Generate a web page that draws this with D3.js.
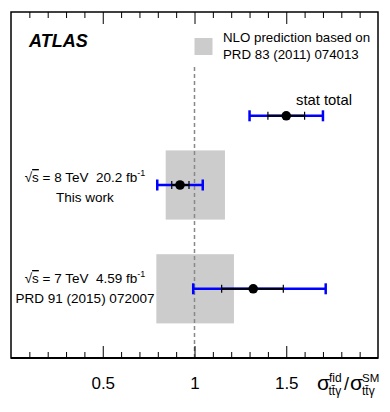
<!DOCTYPE html>
<html>
<head>
<meta charset="utf-8">
<script src="https://d3js.org/d3.v7.min.js"></script>
<style>
body { margin: 0; background: #fff; }
text { font-family: "Liberation Sans", Arial, sans-serif; }
</style>
</head>
<body>
<div id="chart"></div>
<script>
var margin = {top: 12, right: 12, bottom: 54, left: 11};
var width = 390 - margin.left - margin.right;
var height = 412 - margin.top - margin.bottom;

// measurements (ratio to SM), row position on the vertical scale
var rowNames = ["8 TeV", "7 TeV"];
var rowPos = [5, 2];
var values = [0.921, 1.32];
var statLo = [0.876, 1.148];
var statHi = [0.970, 1.484];
var totLo = [0.797, 0.993];
var totHi = [1.045, 1.715];
// NLO prediction band per row
var nloLo = [0.843, 0.792];
var nloHi = [1.166, 1.215];

// legend entry
var legendPos = 7;
var legendValue = 1.5;
var legendStat = [1.4, 1.6];
var legendTot = [1.3, 1.7];

var majorTicks = [0.5, 1, 1.5];
var tickLabels = ["0.5", "1", "1.5"];
var minorTicks = [0.1, 0.2, 0.3, 0.4, 0.6, 0.7, 0.8, 0.9, 1.1, 1.2, 1.3, 1.4, 1.6, 1.7, 1.8, 1.9];

var svg = d3.select("#chart").append("svg")
    .attr("width", width + margin.left + margin.right)
    .attr("height", height + margin.top + margin.bottom)
    .append("g").attr("transform", "translate(" + margin.left + "," + margin.top + ")");

var x = d3.scaleLinear().domain([0, 2]).range([0, width]);
var y = d3.scaleLinear().domain([0, 10]).range([height, 0]);

// NLO bands
svg.selectAll(".nlo").data(rowPos).enter().append("rect")
    .attr("x", (d, i) => x(nloLo[i]))
    .attr("width", (d, i) => x(nloHi[i]) - x(nloLo[i]))
    .attr("y", d => y(d + 1))
    .attr("height", d => y(d - 1) - y(d + 1))
    .attr("fill", "#cccccc");

// SM line
svg.append("line")
    .attr("x1", x(1)).attr("x2", x(1))
    .attr("y1", y(0)).attr("y2", y(8.5))
    .attr("stroke", "#888").attr("stroke-width", 1.5)
    .attr("stroke-dasharray", "4,3");

// error bars
function drawPoint(pos, val, stat, tot) {
    var g = svg.append("g");
    g.append("line").attr("x1", x(tot[0])).attr("x2", x(tot[1]))
        .attr("y1", y(pos)).attr("y2", y(pos)).attr("stroke", "#0000ff").attr("stroke-width", 2.5);
    tot.forEach(function(t) {
        g.append("line").attr("x1", x(t)).attr("x2", x(t))
            .attr("y1", y(pos) - 5.5).attr("y2", y(pos) + 5.5).attr("stroke", "#0000ff").attr("stroke-width", 2.5);
    });
    g.append("line").attr("x1", x(stat[0])).attr("x2", x(stat[1]))
        .attr("y1", y(pos)).attr("y2", y(pos)).attr("stroke", "#000").attr("stroke-width", 2);
    stat.forEach(function(s) {
        g.append("line").attr("x1", x(s)).attr("x2", x(s))
            .attr("y1", y(pos) - 4).attr("y2", y(pos) + 4).attr("stroke", "#000").attr("stroke-width", 1.2);
    });
    g.append("circle").attr("cx", x(val)).attr("cy", y(pos)).attr("r", 4.8).attr("fill", "#000");
}

rowPos.forEach(function(p, i) {
    drawPoint(p, values[i], [statLo[i], statHi[i]], [totLo[i], totHi[i]]);
});
drawPoint(legendPos, legendValue, legendStat, legendTot);

// axes (ticks only, pointing inward)
svg.append("g").attr("transform", "translate(0," + height + ")")
    .call(d3.axisBottom(x).tickValues(minorTicks).tickSize(-6).tickFormat(""))
    .call(g => g.select(".domain").remove());
svg.append("g").attr("class", "xmaj").attr("transform", "translate(0," + height + ")")
    .call(d3.axisBottom(x).tickValues(majorTicks).tickSize(-12).tickPadding(19)
        .tickFormat((d, i) => tickLabels[i]))
    .call(g => g.select(".domain").remove());
svg.selectAll(".xmaj text").attr("font-size", 17).attr("font-family", "Liberation Sans, Arial, sans-serif").attr("fill", "#000");
svg.append("g")
    .call(d3.axisTop(x).tickValues(minorTicks).tickSize(-6).tickFormat(""))
    .call(g => g.select(".domain").remove());
svg.append("g")
    .call(d3.axisTop(x).tickValues(majorTicks).tickSize(-12).tickFormat(""))
    .call(g => g.select(".domain").remove());
svg.selectAll(".tick line").attr("stroke", "#000").attr("stroke-width", 1);

// frame
svg.append("rect").attr("x", 0).attr("y", 0).attr("width", width).attr("height", height)
    .attr("fill", "none").attr("stroke", "#000").attr("stroke-width", 1.5);
svg.append("line").attr("x1", 0).attr("x2", width).attr("y1", height).attr("y2", height)
    .attr("stroke", "#000").attr("stroke-width", 2);

// ATLAS label
svg.append("text").attr("x", 18).attr("y", 35)
    .attr("font-size", 18).attr("font-weight", "bold").attr("font-style", "italic")
    .text("ATLAS");

// NLO legend
svg.append("rect").attr("x", x(1)).attr("y", 26).attr("width", 18).attr("height", 17).attr("fill", "#cccccc");
svg.append("text").attr("x", 212).attr("y", 30).attr("font-size", 13.3).text("NLO prediction based on");
svg.append("text").attr("x", 212).attr("y", 47).attr("font-size", 13.3).text("PRD 83 (2011) 074013");

svg.append("text").attr("x", 285).attr("y", 93).attr("font-size", 14.8).text("stat total");

// row labels
var rowLines = [
    ["8 TeV\u00A0\u00A020.2 fb", "This work"],
    ["7 TeV\u00A0\u00A04.59 fb", "PRD 91 (2015) 072007"]
];
var rowBase = [170, 271];
rowLines.forEach(function(lines, i) {
    var t1 = svg.append("text").attr("x", 74).attr("y", rowBase[i])
        .attr("text-anchor", "middle").attr("font-size", 13.5);
    t1.append("tspan").text("\u221A");
    t1.append("tspan").attr("text-decoration", "overline").text("s");
    t1.append("tspan").text(" = " + lines[0]);
    t1.append("tspan").attr("dy", -6).attr("font-size", 9).text("-1");
    svg.append("text").attr("x", 74).attr("y", rowBase[i] + 20)
        .attr("text-anchor", "middle").attr("font-size", 13.5).text(lines[1]);
});

// x axis title
var tt = svg.append("g").attr("transform", "translate(306," + (height + 32) + ")");
tt.append("text").attr("x", 0).attr("y", 0).attr("font-size", 21).text("\u03C3");
tt.append("text").attr("x", 12).attr("y", -8).attr("font-size", 12).text("fid");
tt.append("text").attr("x", 11.5).attr("y", 5).attr("font-size", 12).text("tt\u0304\u03B3");
tt.append("text").attr("x", 27).attr("y", 0).attr("font-size", 18).text("/");
tt.append("text").attr("x", 33).attr("y", 0).attr("font-size", 21).text("\u03C3");
tt.append("text").attr("x", 45).attr("y", -8).attr("font-size", 11.5).text("SM");
tt.append("text").attr("x", 45).attr("y", 5).attr("font-size", 12).text("tt\u0304\u03B3");
</script>
</body>
</html>
